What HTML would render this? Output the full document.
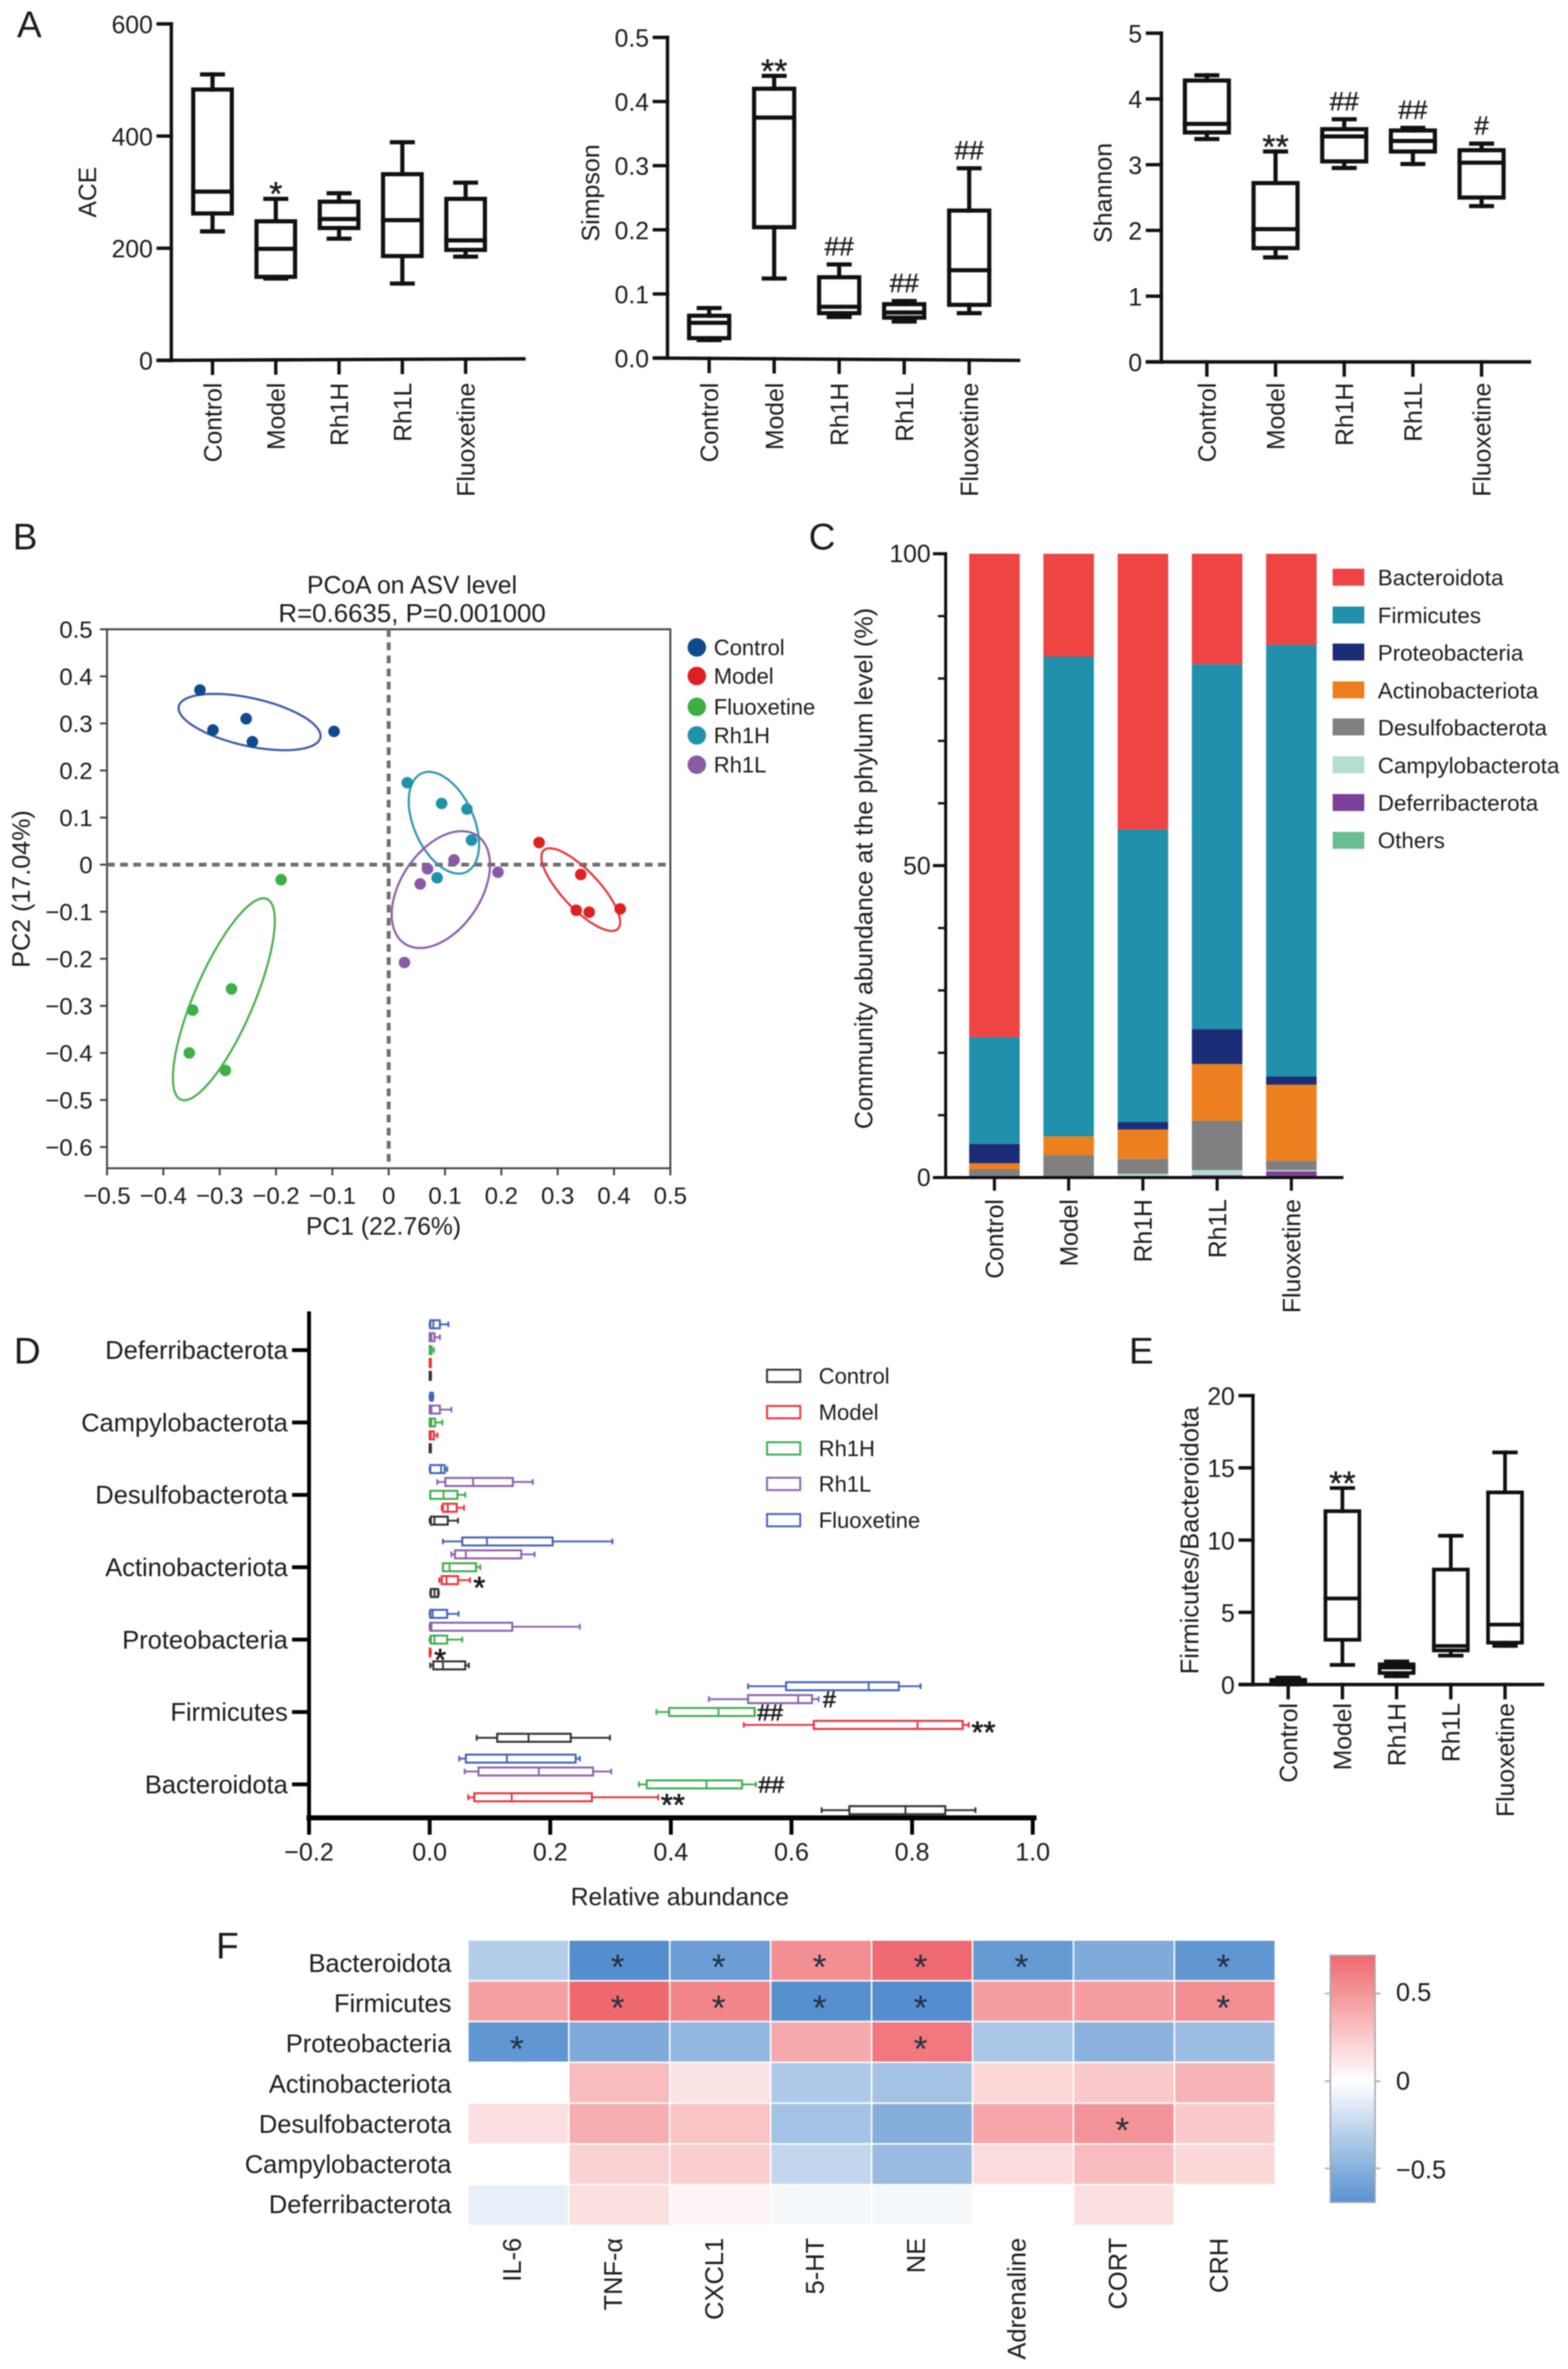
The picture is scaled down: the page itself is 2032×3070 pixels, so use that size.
<!DOCTYPE html>
<html lang="en">
<head>
<meta charset="utf-8">
<title>Gut microbiota analysis figure</title>
<style>
html,body{margin:0;padding:0;background:#fff;}
#figure{display:block;width:2032px;height:3070px;filter:blur(0.7px);font-family:"Liberation Sans","Noto Sans CJK SC",sans-serif;fill:#1c1c1c;}
</style>
</head>
<body>
<svg id="figure" xmlns="http://www.w3.org/2000/svg" width="2032" height="3070" viewBox="0 0 2032 3070">
<defs>
<linearGradient id="cbar" x1="0" y1="0" x2="0" y2="1">
<stop offset="0" stop-color="#ef686e"/><stop offset="0.51" stop-color="#ffffff"/><stop offset="1" stop-color="#5892d0"/>
</linearGradient>
</defs>
<rect x="0" y="0" width="2032" height="3070" fill="#fff"/>

<text x="22" y="48" font-size="48">A</text>
<text x="16.5" y="712" font-size="48">B</text>
<text x="1048" y="712" font-size="48">C</text>
<text x="18" y="1767" font-size="48">D</text>
<text x="1463" y="1767" font-size="48">E</text>
<text x="280" y="2538" font-size="48">F</text>

<g id="ace-chart">
<text transform="rotate(-90 124.5 249)" x="124.5" y="249" font-size="32" text-anchor="middle">ACE</text>
</g>
<g id="simpson-chart">
<text transform="rotate(-90 776.5 250)" x="776.5" y="250" font-size="32.4" text-anchor="middle">Simpson</text>
</g>
<g id="shannon-chart">
<text transform="rotate(-90 1440.5 250)" x="1440.5" y="250" font-size="32.4" text-anchor="middle">Shannon</text>
</g>

<g id="pcoa-chart">
<text x="534" y="769" font-size="32" text-anchor="middle">PCoA on ASV level</text>
<text x="534" y="806" font-size="33.5" text-anchor="middle">R=0.6635, P=0.001000</text>
<text x="497" y="1600" font-size="32" text-anchor="middle">PC1 (22.76%)</text>
<text transform="rotate(-90 38.5 1152)" x="38.5" y="1152" font-size="32.5" text-anchor="middle">PC2 (17.04%)</text>
</g>
<g id="pcoa-legend">
<circle cx="903" cy="839" r="12" fill="#0f4a8c"/>
<text x="925" y="849" font-size="28.5">Control</text>
<circle cx="903" cy="876" r="12" fill="#e02020"/>
<text x="925" y="886" font-size="28.5">Model</text>
<circle cx="903" cy="916" r="12" fill="#3cb043"/>
<text x="925" y="926" font-size="28.5">Fluoxetine</text>
<circle cx="903" cy="953" r="12" fill="#1f93ab"/>
<text x="925" y="963" font-size="28.5">Rh1H</text>
<circle cx="903" cy="991" r="12" fill="#8a5aa6"/>
<text x="925" y="1001" font-size="28.5">Rh1L</text>
</g>

<g id="stack-chart">
<text transform="rotate(-90 1130.5 1125.5)" x="1130.5" y="1125.5" font-size="32.6" text-anchor="middle">Community abundance at the phylum level (%)</text>
</g>
<g id="stack-legend">
<rect x="1727" y="737" width="41" height="22" fill="#ee4444"/>
<text x="1785.5" y="758.5" font-size="29">Bacteroidota</text>
<rect x="1727" y="786" width="41" height="22" fill="#2090ab"/>
<text x="1785.5" y="807.5" font-size="29">Firmicutes</text>
<rect x="1727" y="834" width="41" height="22" fill="#1c2d78"/>
<text x="1785.5" y="856" font-size="29">Proteobacteria</text>
<rect x="1727" y="883" width="41" height="22" fill="#ee7f1e"/>
<text x="1785.5" y="905" font-size="29">Actinobacteriota</text>
<rect x="1727" y="931" width="41" height="22" fill="#808080"/>
<text x="1785.5" y="953" font-size="29">Desulfobacterota</text>
<rect x="1727" y="980" width="41" height="22" fill="#b5ddd0"/>
<text x="1785.5" y="1002" font-size="29">Campylobacterota</text>
<rect x="1727" y="1029" width="41" height="22" fill="#7d3f9a"/>
<text x="1785.5" y="1050.5" font-size="29">Deferribacterota</text>
<rect x="1727" y="1078" width="41" height="22" fill="#69bd95"/>
<text x="1785.5" y="1099" font-size="29">Others</text>
</g>

<g id="relative-chart">
<text x="881" y="2469" font-size="32" text-anchor="middle">Relative abundance</text>
</g>
<g id="relative-legend">
<rect x="994" y="1775" width="43" height="16" fill="none" stroke="#333" stroke-width="2.5"/>
<text x="1061" y="1793" font-size="28.5">Control</text>
<rect x="994" y="1822" width="43" height="16" fill="none" stroke="#e8343f" stroke-width="2.5"/>
<text x="1061" y="1840" font-size="28.5">Model</text>
<rect x="994" y="1869" width="43" height="16" fill="none" stroke="#3fae4f" stroke-width="2.5"/>
<text x="1061" y="1887" font-size="28.5">Rh1H</text>
<rect x="994" y="1915" width="43" height="16" fill="none" stroke="#8f62ad" stroke-width="2.5"/>
<text x="1061" y="1933" font-size="28.5">Rh1L</text>
<rect x="994" y="1962" width="43" height="16" fill="none" stroke="#4566b5" stroke-width="2.5"/>
<text x="1061" y="1980" font-size="28.5">Fluoxetine</text>
</g>

<g id="ratio-chart">
<text transform="rotate(-90 1553 1996.4)" x="1553" y="1996.4" font-size="33" text-anchor="middle">Firmicutes/Bacteroidota</text>
</g>

<g id="heatmap-chart"></g>
<g id="colorbar">
<rect x="1724" y="2534" width="58" height="320" fill="url(#cbar)" stroke="#aaa" stroke-width="2"/>
<line x1="1717" y1="2583.4" x2="1724" y2="2583.4" stroke="#aaa" stroke-width="2"/>
<line x1="1782" y1="2583.4" x2="1789" y2="2583.4" stroke="#aaa" stroke-width="2"/>
<line x1="1717" y1="2697" x2="1724" y2="2697" stroke="#aaa" stroke-width="2"/>
<line x1="1782" y1="2697" x2="1789" y2="2697" stroke="#aaa" stroke-width="2"/>
<line x1="1717" y1="2810" x2="1724" y2="2810" stroke="#aaa" stroke-width="2"/>
<line x1="1782" y1="2810" x2="1789" y2="2810" stroke="#aaa" stroke-width="2"/>
<text x="1809" y="2593" font-size="33">0.5</text>
<text x="1809" y="2708" font-size="33">0</text>
<text x="1809" y="2823" font-size="33">−0.5</text>
</g>
</svg>

<script>
// ---------- shared categories ----------
const groups = ['Control', 'Model', 'Rh1H', 'Rh1L', 'Fluoxetine'];

// ---------- panel A: ACE ----------
const aceTicks = [0, 200, 400, 600];
const aceHigh = [510, 288, 298, 389, 317];
const aceQ3 = [483, 248, 283, 332, 288];
const aceMedian = [301, 199, 252, 250, 214];
const aceQ1 = [262, 149, 236, 186, 197];
const aceLow = [230, 146, 217, 137, 185];
const aceMarks = ['', '*', '', '', ''];

// ---------- panel A: Simpson ----------
const simpsonTicks = [0, 0.1, 0.2, 0.3, 0.4, 0.5];
const simpsonTickLabels = ['0.0', '0.1', '0.2', '0.3', '0.4', '0.5'];
const simpsonHigh = [0.078, 0.44, 0.146, 0.089, 0.296];
const simpsonQ3 = [0.066, 0.42, 0.126, 0.084, 0.23];
const simpsonMedian = [0.055, 0.375, 0.08, 0.071, 0.137];
const simpsonQ1 = [0.031, 0.204, 0.07, 0.063, 0.083];
const simpsonLow = [0.028, 0.124, 0.064, 0.057, 0.07];
const simpsonMarks = ['', '**', '##', '##', '##'];

// ---------- panel A: Shannon ----------
const shannonTicks = [0, 1, 2, 3, 4, 5];
const shannonHigh = [4.36, 3.2, 3.69, 3.56, 3.32];
const shannonQ3 = [4.28, 2.72, 3.54, 3.52, 3.22];
const shannonMedian = [3.62, 2.02, 3.43, 3.36, 3.03];
const shannonQ1 = [3.49, 1.73, 3.05, 3.2, 2.5];
const shannonLow = [3.39, 1.59, 2.95, 3.01, 2.37];
const shannonMarks = ['', '**', '##', '##', '#'];

// ---------- panel E: ratio ----------
const ratioTicks = [0, 5, 10, 15, 20];
const ratioHigh = [0.48, 13.6, 1.6, 10.3, 16.07];
const ratioQ3 = [0.33, 12.0, 1.4, 7.96, 13.3];
const ratioMedian = [0.24, 5.96, 1.17, 2.67, 4.15];
const ratioQ1 = [0.05, 3.1, 0.8, 2.36, 2.9];
const ratioLow = [0.0, 1.36, 0.57, 2.0, 2.67];
const ratioMarks = ['', '**', '', '', ''];

// ---------- panel B: PCoA ----------
const pcoaXTicks = [-0.5, -0.4, -0.3, -0.2, -0.1, 0, 0.1, 0.2, 0.3, 0.4, 0.5];
const pcoaXTickLabels = ['−0.5', '−0.4', '−0.3', '−0.2', '−0.1', '0', '0.1', '0.2', '0.3', '0.4', '0.5'];
const pcoaYTicks = [0.5, 0.4, 0.3, 0.2, 0.1, 0, -0.1, -0.2, -0.3, -0.4, -0.5, -0.6];
const pcoaYTickLabels = ['0.5', '0.4', '0.3', '0.2', '0.1', '0', '−0.1', '−0.2', '−0.3', '−0.4', '−0.5', '−0.6'];
const pcoaSeries = ['control', 'model', 'fluoxetine', 'rh1h', 'rh1l'];
const pcoaControlPC1 = [-0.335, -0.312, -0.253, -0.242, -0.097];
const pcoaControlPC2 = [0.371, 0.286, 0.31, 0.261, 0.283];
const pcoaModelPC1 = [0.267, 0.341, 0.333, 0.356, 0.411];
const pcoaModelPC2 = [0.047, -0.021, -0.097, -0.101, -0.094];
const pcoaFluoxetinePC1 = [-0.191, -0.279, -0.348, -0.354, -0.29];
const pcoaFluoxetinePC2 = [-0.032, -0.264, -0.309, -0.4, -0.437];
const pcoaRh1HPC1 = [0.033, 0.094, 0.139, 0.147, 0.086];
const pcoaRh1HPC2 = [0.174, 0.13, 0.118, 0.052, -0.028];
const pcoaRh1LPC1 = [0.116, 0.069, 0.056, 0.194, 0.028];
const pcoaRh1LPC2 = [0.01, -0.009, -0.041, -0.016, -0.208];
// confidence ellipses in data units: centre, major-axis vector, minor-axis vector
const ellipseCenterPC1 = [-0.247, 0.341, -0.2926, 0.098, 0.0926];
const ellipseCenterPC2 = [0.303, -0.053, -0.286, 0.089, -0.053];
const ellipseMajorPC1 = [0.1257, 0.0657, 0.0767, 0.0393, 0.0644];
const ellipseMajorPC2 = [-0.0333, -0.0836, 0.213, -0.105, 0.1148];
const ellipseMinorPC1 = [0.0092, 0.024, 0.048, 0.0485, 0.0589];
const ellipseMinorPC2 = [0.0497, 0.027, -0.026, 0.026, -0.0475];

// ---------- panel C: stacked abundance (%) ----------
const stackTicks = [0, 50, 100];
const stackMinorTicks = [10, 20, 30, 40, 60, 70, 80, 90];
const stackOthers = [0, 0, 0, 0, 0];
const stackDeferribacterota = [0, 0, 0, 0.4, 1.0];
const stackCampylobacterota = [0, 0, 0.6, 0.8, 0.2];
const stackDesulfobacterota = [1.3, 3.6, 2.4, 7.9, 1.5];
const stackActinobacteriota = [1.0, 3.0, 4.7, 9.1, 12.2];
const stackProteobacteria = [3.1, 0, 1.2, 5.6, 1.3];
const stackFirmicutes = [17.1, 76.9, 46.9, 58.5, 69.2];
const stackBacteroidota = [77.5, 16.5, 44.2, 17.7, 14.6];

// ---------- panel D: relative abundance, one [low,q1,median,q3,high] per phylum ----------
const phyla = ['Deferribacterota', 'Campylobacterota', 'Desulfobacterota', 'Actinobacteriota', 'Proteobacteria', 'Firmicutes', 'Bacteroidota'];
const relTicks = [-0.2, 0, 0.2, 0.4, 0.6, 0.8, 1.0];
const relTickLabels = ['−0.2', '0.0', '0.2', '0.4', '0.6', '0.8', '1.0'];
const relFluoxetine = [[0, 0.001, 0.006, 0.017, 0.031], [0, 0.001, 0.003, 0.005, 0.006], [0, 0.001, 0.019, 0.025, 0.029], [0.022, 0.054, 0.095, 0.204, 0.303], [0, 0.001, 0.005, 0.029, 0.048], [0.528, 0.591, 0.728, 0.778, 0.814], [0.049, 0.06, 0.128, 0.242, 0.249]];
const relRh1L = [[0, 0, 0.003, 0.008, 0.017], [0, 0, 0.003, 0.017, 0.036], [0.0126, 0.026, 0.072, 0.138, 0.171], [0.036, 0.042, 0.06, 0.152, 0.174], [0, 0.001, 0.003, 0.137, 0.249], [0.463, 0.528, 0.611, 0.634, 0.645], [0.058, 0.081, 0.181, 0.271, 0.301]];
const relRh1H = [[0, 0, 0.001, 0.003, 0.007], [0, 0, 0.003, 0.009, 0.021], [0.001, 0.001, 0.023, 0.046, 0.059], [0.022, 0.022, 0.033, 0.077, 0.084], [0, 0.002, 0.008, 0.029, 0.054], [0.376, 0.397, 0.479, 0.539, 0.539], [0.347, 0.36, 0.459, 0.518, 0.541]];
const relModel = [[0, 0, 0.001, 0.002, 0.002], [0, 0, 0.002, 0.007, 0.013], [0.02, 0.022, 0.03, 0.045, 0.057], [0.016, 0.02, 0.028, 0.047, 0.067], [0, 0, 0.001, 0.001, 0.002], [0.521, 0.637, 0.809, 0.884, 0.894], [0.064, 0.074, 0.136, 0.269, 0.379]];
const relControl = [[0, 0, 0.001, 0.002, 0.002], [0, 0, 0.001, 0.002, 0.002], [0, 0.002, 0.008, 0.03, 0.047], [0.001, 0.002, 0.008, 0.014, 0.015], [0.001, 0.006, 0.022, 0.059, 0.065], [0.078, 0.112, 0.164, 0.234, 0.299], [0.65, 0.696, 0.789, 0.855, 0.905]];
const relFluoxetineMarks = ['', '', '', '', '', '', ''];
const relRh1LMarks = ['', '', '', '', '', '#', ''];
const relRh1HMarks = ['', '', '', '', '', '##', '##'];
const relModelMarks = ['', '', '', '*', '*', '**', '**'];
const relControlMarks = ['', '', '', '', '', '', ''];

// ---------- panel F: correlation heatmap ----------
const hmRows = ['Bacteroidota', 'Firmicutes', 'Proteobacteria', 'Actinobacteriota', 'Desulfobacterota', 'Campylobacterota', 'Deferribacterota'];
const hmCols = ['IL-6', 'TNF-α', 'CXCL1', '5-HT', 'NE', 'Adrenaline', 'CORT', 'CRH'];
const hmBacteroidota = [-0.25, -0.6, -0.48, 0.42, 0.55, -0.5, -0.42, -0.52];
const hmFirmicutes = [0.35, 0.6, 0.45, -0.55, -0.58, 0.36, 0.36, 0.42];
const hmProteobacteria = [-0.52, -0.42, -0.36, 0.32, 0.5, -0.28, -0.38, -0.32];
const hmActinobacteriota = [0, 0.25, 0.1, -0.27, -0.3, 0.15, 0.2, 0.28];
const hmDesulfobacterota = [0.12, 0.3, 0.22, -0.3, -0.4, 0.33, 0.4, 0.2];
const hmCampylobacterota = [0, 0.17, 0.18, -0.2, -0.33, 0.13, 0.25, 0.15];
const hmDeferribacterota = [-0.08, 0.12, 0.04, -0.03, -0.03, 0, 0.12, 0];
const hmStarsBacteroidota = ['', '*', '*', '*', '*', '*', '', '*'];
const hmStarsFirmicutes = ['', '*', '*', '*', '*', '', '', '*'];
const hmStarsProteobacteria = ['*', '', '', '', '*', '', '', ''];
const hmStarsActinobacteriota = ['', '', '', '', '', '', '', ''];
const hmStarsDesulfobacterota = ['', '', '', '', '', '', '*', ''];
const hmStarsCampylobacterota = ['', '', '', '', '', '', '', ''];
const hmStarsDeferribacterota = ['', '', '', '', '', '', '', ''];

// ---------- drawing helpers ----------
const NS = 'http://www.w3.org/2000/svg';
function mk(parent, tag, attrs) {
  const el = document.createElementNS(NS, tag);
  for (const k in attrs) el.setAttribute(k, attrs[k]);
  parent.appendChild(el);
  return el;
}
function seg(parent, x1, y1, x2, y2, stroke, width) {
  return mk(parent, 'line', { x1: x1, y1: y1, x2: x2, y2: y2, stroke: stroke, 'stroke-width': width, 'stroke-linecap': 'square' });
}
function txt(parent, content, x, y, size, anchor, rotate) {
  const t = mk(parent, 'text', { x: x, y: y, 'font-size': size, 'text-anchor': anchor });
  if (rotate) t.setAttribute('transform', 'rotate(-90 ' + x + ' ' + y + ')');
  t.textContent = content;
  return t;
}
// mark glyphs sit differently against the baseline: asterisks high, hashes mid
function markBaseline(mark, yc, size) {
  return mark.charAt(0) === '*' ? yc + 0.58 * size : yc + 0.36 * size;
}

// ---------- vertical box chart (ACE, Simpson, Shannon, ratio) ----------
function boxChart(c) {
  const g = document.getElementById(c.id + '-chart');
  const sy = v => c.y0 - (v - c.min) * c.pxPerUnit;
  const sx = i => c.x0 + i * c.step;
  const yAxis = seg(g, c.axisX, sy(c.ticks[c.ticks.length - 1]), c.axisX, c.y0, '#111', 4.4);
  
  
  const xAxis = seg(g, c.axisX - c.tickLen, c.y0, c.axisEnd, c.axisEndY, '#111', 4.4);
  
  
  c.ticks.forEach(function (v, i) {
    const t = seg(g, c.axisX - c.tickLen, sy(v), c.axisX, sy(v), '#111', 4.4);
    
    
    const l = txt(g, c.tickLabels ? c.tickLabels[i] : String(v), c.axisX - c.tickLen - 7, sy(v) + 12, 32, 'end', false);
    
    
  });
  groups.forEach(function (name, i) {
    const x = sx(i);
    const tilt = c.y0 + (c.axisEndY - c.y0) * (x - c.axisX) / (c.axisEnd - c.axisX);
    const tk = seg(g, x, tilt, x, tilt + 17, '#111', 4.4);
    
    
    const lb = txt(g, name, x + 11.5, c.labelTop, 32, 'end', true);
    
    

    const whiskerUp = seg(g, x, sy(c.high[i]), x, sy(c.q3[i]), '#111', c.sw);
    
    
    const whiskerDown = seg(g, x, sy(c.q1[i]), x, sy(c.low[i]), '#111', c.sw);
    
    
    const capUp = seg(g, x - c.capW / 2, sy(c.high[i]), x + c.capW / 2, sy(c.high[i]), '#111', c.sw);
    
    
    const capDown = seg(g, x - c.capW / 2, sy(c.low[i]), x + c.capW / 2, sy(c.low[i]), '#111', c.sw);
    
    
    const box = mk(g, 'rect', { x: x - c.boxW / 2, y: sy(c.q3[i]), width: c.boxW, height: Math.max(0, sy(c.q1[i]) - sy(c.q3[i])), fill: 'none', stroke: '#111', 'stroke-width': c.sw });
    
    
    const med = seg(g, x - c.boxW / 2, sy(c.median[i]), x + c.boxW / 2, sy(c.median[i]), '#111', c.sw);
    
    
    const mark = c.marks[i];
    if (mark) {
      const isStar = mark.charAt(0) === '*';
      const size = isStar ? 44 : 34;
      const yc = sy(c.high[i]) - (isStar ? 17 : 24);
      const m = txt(g, mark, x, markBaseline(mark, yc, size), size, 'middle', false);
      m.setAttribute('stroke', '#1c1c1c');
      m.setAttribute('stroke-width', '0.5');
      
      
    }
  });
}

boxChart({ id: 'ace', ticks: aceTicks, low: aceLow, q1: aceQ1, median: aceMedian, q3: aceQ3, high: aceHigh, marks: aceMarks,
  min: 0, y0: 467, pxPerUnit: 436 / 600, x0: 275.4, step: 82, axisX: 222, axisEnd: 679, axisEndY: 465, tickLen: 17, labelTop: 496, boxW: 50, capW: 27, sw: 5.4 });
boxChart({ id: 'simpson', ticks: simpsonTicks, tickLabels: simpsonTickLabels, low: simpsonLow, q1: simpsonQ1, median: simpsonMedian, q3: simpsonQ3, high: simpsonHigh, marks: simpsonMarks,
  min: 0, y0: 464, pxPerUnit: 831, x0: 919, step: 84.25, axisX: 865, axisEnd: 1320, axisEndY: 467, tickLen: 17, labelTop: 496, boxW: 52, capW: 27, sw: 5.4 });
boxChart({ id: 'shannon', ticks: shannonTicks, low: shannonLow, q1: shannonQ1, median: shannonMedian, q3: shannonQ3, high: shannonHigh, marks: shannonMarks,
  min: 0, y0: 469, pxPerUnit: 85.2, x0: 1564, step: 89, axisX: 1505, axisEnd: 1982, axisEndY: 469, tickLen: 18, labelTop: 496, boxW: 57, capW: 27, sw: 5.4 });
boxChart({ id: 'ratio', ticks: ratioTicks, low: ratioLow, q1: ratioQ1, median: ratioMedian, q3: ratioQ3, high: ratioHigh, marks: ratioMarks,
  min: 0, y0: 2183, pxPerUnit: 18.72, x0: 1669.4, step: 70.25, axisX: 1623.7, axisEnd: 1999, axisEndY: 2183, tickLen: 16.5, labelTop: 2207, boxW: 44, capW: 28, sw: 4.8 });

// ---------- panel B: PCoA ----------
(function () {
  const g = document.getElementById('pcoa-chart');
  const sx = v => 503.7 + v * 730;
  const sy = v => 1120.5 - v * 610;
  const frame = mk(g, 'rect', { x: sx(-0.5), y: sy(0.5), width: sx(0.5) - sx(-0.5), height: sy(-0.645) - sy(0.5), fill: 'none', stroke: '#444', 'stroke-width': 2.5 });
  
  
  pcoaXTicks.forEach(function (v, i) {
    const t = seg(g, sx(v), sy(-0.645), sx(v), sy(-0.645) + 8, '#444', 2.5);
    
    
    const l = txt(g, pcoaXTickLabels[i], sx(v), 1560, 31, 'middle', false);
    
    
  });
  pcoaYTicks.forEach(function (v, i) {
    const t = seg(g, sx(-0.5) - 8, sy(v), sx(-0.5), sy(v), '#444', 2.5);
    
    
    const l = txt(g, pcoaYTickLabels[i], 120, sy(v) + 11, 31, 'end', false);
    
    
  });
  const zeroH = mk(g, 'line', { x1: sx(-0.5), y1: sy(0), x2: sx(0.5), y2: sy(0), stroke: '#6e6e6e', 'stroke-width': 5, 'stroke-dasharray': '10 7' });
  
  
  const zeroV = mk(g, 'line', { x1: sx(0), y1: sy(0.5), x2: sx(0), y2: sy(-0.645), stroke: '#6e6e6e', 'stroke-width': 5, 'stroke-dasharray': '10 7' });
  
  

  const dotColors = ['#0f4a8c', '#e02020', '#3cb043', '#1f93ab', '#8a5aa6'];
  const ringColors = ['#3f5aa8', '#e33a3a', '#4cb050', '#2f98b0', '#8d5fac'];
  const pc1 = [pcoaControlPC1, pcoaModelPC1, pcoaFluoxetinePC1, pcoaRh1HPC1, pcoaRh1LPC1];
  const pc2 = [pcoaControlPC2, pcoaModelPC2, pcoaFluoxetinePC2, pcoaRh1HPC2, pcoaRh1LPC2];
  pcoaSeries.forEach(function (name, s) {
    let d = '';
    for (let a = 0; a <= 72; a++) {
      const th = a / 72 * 2 * Math.PI;
      const px = ellipseCenterPC1[s] + ellipseMajorPC1[s] * Math.cos(th) + ellipseMinorPC1[s] * Math.sin(th);
      const py = ellipseCenterPC2[s] + ellipseMajorPC2[s] * Math.cos(th) + ellipseMinorPC2[s] * Math.sin(th);
      d += (a ? 'L' : 'M') + sx(px).toFixed(1) + ' ' + sy(py).toFixed(1);
    }
    const ring = mk(g, 'path', { d: d + 'Z', fill: 'none', stroke: ringColors[s], 'stroke-width': 2.8 });
    
    
    pc1[s].forEach(function (v, i) {
      const dot = mk(g, 'circle', { cx: sx(v), cy: sy(pc2[s][i]), r: 7.5, fill: dotColors[s] });
      
      
    });
  });
})();

// ---------- panel C: stacked bars ----------
(function () {
  const g = document.getElementById('stack-chart');
  const sy = v => 1526 - v * 8.084;
  const sx = i => 1288.7 + i * 96.2;
  const names = ['others', 'deferribacterota', 'campylobacterota', 'desulfobacterota', 'actinobacteriota', 'proteobacteria', 'firmicutes', 'bacteroidota'];
  const colors = ['#69bd95', '#7d3f9a', '#b5ddd0', '#808080', '#ee7f1e', '#1c2d78', '#2090ab', '#ee4444'];
  const series = [stackOthers, stackDeferribacterota, stackCampylobacterota, stackDesulfobacterota, stackActinobacteriota, stackProteobacteria, stackFirmicutes, stackBacteroidota];
  groups.forEach(function (name, i) {
    let base = 0;
    series.forEach(function (vals, s) {
      const bar = mk(g, 'rect', { x: sx(i) - 32.75, y: sy(base + vals[i]), width: 65.5, height: Math.max(0, sy(base) - sy(base + vals[i])), fill: colors[s] });
      
      
      base += vals[i];
    });
    const t = seg(g, sx(i), 1526, sx(i), 1541, '#111', 4);
    
    
    const l = txt(g, name, sx(i) + 11.5, 1554, 32, 'end', true);
    
    
  });
  const yAxis = seg(g, 1225.5, sy(100), 1225.5, sy(0), '#111', 4);
  
  
  const xAxis = seg(g, 1225.5, sy(0), 1739, sy(0), '#111', 4);
  
  
  stackTicks.forEach(function (v) {
    const t = seg(g, 1211, sy(v), 1225.5, sy(v), '#111', 4);
    
    
    const l = txt(g, String(v), 1206, sy(v) + 11, 32, 'end', false);
    
    
  });
  stackMinorTicks.forEach(function (v) {
    const t = seg(g, 1217, sy(v), 1225.5, sy(v), '#111', 3);
    
    
  });
})();

// ---------- panel D: horizontal box plots ----------
(function () {
  const g = document.getElementById('relative-chart');
  const sx = v => 556.8 + v * 781.5;
  const rowY = i => 1749.6 + i * 93.8;
  const yAxis = seg(g, 400.5, 1702, 400.5, 2355.7, '#000', 5);
  
  
  const xAxis = seg(g, 400.5, 2355.7, 1340, 2355.7, '#000', 6.5);
  
  
  relTicks.forEach(function (v, i) {
    const t = seg(g, sx(v), 2355.7, sx(v), 2375, '#000', 5);
    
    
    const l = txt(g, relTickLabels[i], sx(v), 2411, 32.5, 'middle', false);
    
    
  });
  phyla.forEach(function (name, i) {
    const t = seg(g, 381, rowY(i), 400.5, rowY(i), '#000', 5);
    
    
    const l = txt(g, name, 373, rowY(i) + 11.5, 33, 'end', false);
    
    
  });
  const seriesNames = ['fluoxetine', 'rh1l', 'rh1h', 'model', 'control'];
  const seriesColors = ['#4566b5', '#8f62ad', '#3fae4f', '#e8343f', '#333333'];
  const seriesData = [relFluoxetine, relRh1L, relRh1H, relModel, relControl];
  const seriesMarks = [relFluoxetineMarks, relRh1LMarks, relRh1HMarks, relModelMarks, relControlMarks];
  const markGap = { '*': 12, '**': 19, '#': 14, '##': 20 };
  seriesData.forEach(function (rows, s) {
    rows.forEach(function (b, i) {
      const y = rowY(i) + (s - 2) * 16.7;
      const col = seriesColors[s];
      const wh = seg(g, sx(b[3]), y, sx(b[4]), y, col, 2.4);
      
      
      const wl = seg(g, sx(b[0]), y, sx(b[1]), y, col, 2.4);
      
      
      const ch = seg(g, sx(b[4]), y - 2.5, sx(b[4]), y + 2.5, col, 2.4);
      
      
      const cl = seg(g, sx(b[0]), y - 2.5, sx(b[0]), y + 2.5, col, 2.4);
      
      
      const box = mk(g, 'rect', { x: sx(b[1]), y: y - 5.2, width: Math.max(0, sx(b[3]) - sx(b[1])), height: 10.4, fill: 'none', stroke: col, 'stroke-width': 2.6 });
      
      
      const med = seg(g, sx(b[2]), y - 5.2, sx(b[2]), y + 5.2, col, 2.4);
      
      
      const mark = seriesMarks[s][i];
      if (mark) {
        const size = mark.charAt(0) === '*' ? 40 : 30;
        const m = txt(g, mark, sx(b[4]) + markGap[mark], markBaseline(mark, y, size), size, 'middle', false);
        m.setAttribute('stroke', '#1c1c1c');
        m.setAttribute('stroke-width', '0.8');
        
        
      }
    });
  });
})();

// ---------- panel F: heatmap ----------
(function () {
  const g = document.getElementById('heatmap-chart');
  const values = [hmBacteroidota, hmFirmicutes, hmProteobacteria, hmActinobacteriota, hmDesulfobacterota, hmCampylobacterota, hmDeferribacterota];
  const stars = [hmStarsBacteroidota, hmStarsFirmicutes, hmStarsProteobacteria, hmStarsActinobacteriota, hmStarsDesulfobacterota, hmStarsCampylobacterota, hmStarsDeferribacterota];
  const cellW = 130.8;
  const cellH = 52.86;
  const colX = j => 606.3 + j * cellW;
  const rowY = i => 2514 + i * cellH;
  function color(v) {
    const t = Math.min(Math.abs(v) / 0.56, 1);
    const end = v > 0 ? [239, 104, 110] : [84, 142, 206];
    return 'rgb(' + end.map(function (e) { return Math.round(255 + (e - 255) * t); }).join(',') + ')';
  }
  values.forEach(function (row, i) {
    const l = txt(g, hmRows[i], 585, 2544 + i * 52.1 + 11.5, 33, 'end', false);
    
    
    row.forEach(function (v, j) {
      const cell = mk(g, 'rect', { x: colX(j) + 1, y: rowY(i) + 1, width: cellW - 2, height: cellH - 2, fill: color(v) });
      
      
      if (stars[i][j]) {
        const s = txt(g, stars[i][j], colX(j) + cellW / 2 - 2, markBaseline('*', rowY(i) + cellH / 2 - 2, 46), 46, 'middle', false);
        s.setAttribute('fill', '#23303f');
        
        
      }
    });
  });
  hmCols.forEach(function (name, j) {
    const c = txt(g, name, colX(j) + cellW / 2 - 8 + 11.5, 2900, 33, 'end', true);
    
    
  });
})();
</script>
</body>
</html>
